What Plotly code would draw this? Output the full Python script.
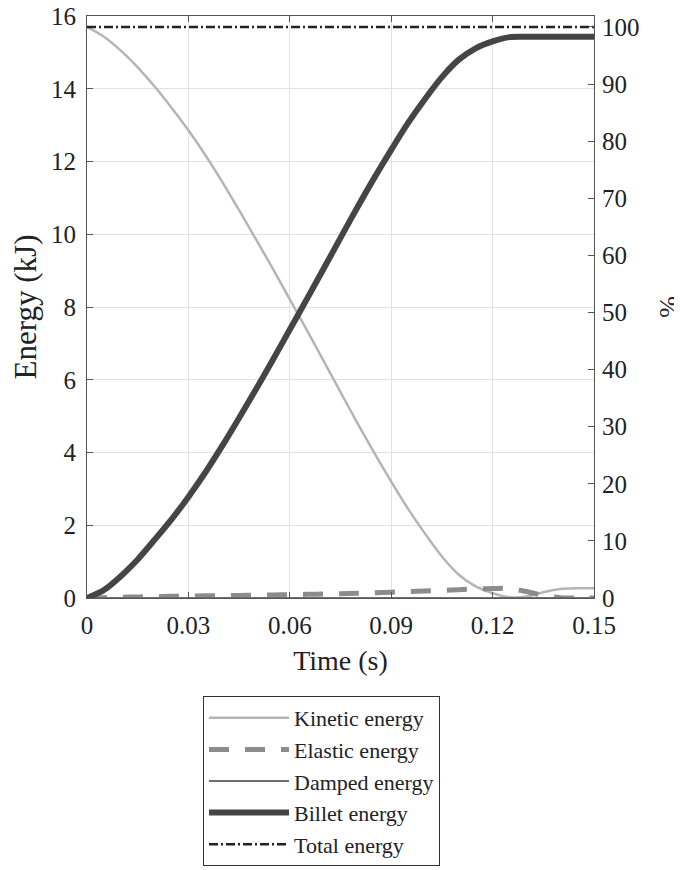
import plotly.graph_objects as go

time_s = [0.000, 0.005, 0.010, 0.015, 0.020, 0.025, 0.030, 0.035, 0.040, 0.045,
          0.050, 0.055, 0.060, 0.065, 0.070, 0.075, 0.080, 0.085, 0.090, 0.095,
          0.100, 0.105, 0.110, 0.115, 0.120, 0.125, 0.130, 0.135, 0.140, 0.145, 0.150]

kinetic = [15.70, 15.43, 15.05, 14.59, 14.06, 13.48, 12.86, 12.18, 11.44, 10.66,
           9.86, 9.05, 8.21, 7.37, 6.52, 5.66, 4.81, 3.99, 3.20, 2.45,
           1.77, 1.14, 0.64, 0.32, 0.13, 0.02, 0.04, 0.16, 0.25, 0.27, 0.27]

elastic = [0.00, 0.01, 0.02, 0.03, 0.035, 0.045, 0.05, 0.06, 0.065, 0.07,
           0.08, 0.085, 0.09, 0.10, 0.11, 0.12, 0.13, 0.145, 0.16, 0.175,
           0.19, 0.21, 0.23, 0.25, 0.26, 0.26, 0.18, 0.07, 0.01, 0.00, 0.00]

damped = [0.00, 0.00, 0.00, 0.00, 0.00, 0.00, 0.00, 0.00, 0.00, 0.00,
          0.00, 0.00, 0.00, 0.00, 0.00, 0.00, 0.00, 0.00, 0.00, 0.00,
          0.00, 0.00, 0.00, 0.00, 0.00, 0.00, 0.00, 0.00, 0.00, 0.00, 0.00]

billet = [0.00, 0.22, 0.60, 1.06, 1.60, 2.16, 2.78, 3.45, 4.18, 4.95,
          5.74, 6.55, 7.38, 8.21, 9.05, 9.90, 10.74, 11.55, 12.32, 13.06,
          13.72, 14.32, 14.80, 15.11, 15.30, 15.42, 15.43, 15.43, 15.43, 15.43, 15.43]

total = [15.70] * len(time_s)

TOTAL_REF = 15.70
percent = [v / TOTAL_REF * 100 for v in total]

x_ticks = [0, 0.03, 0.06, 0.09, 0.12, 0.15]
x_tick_labels = ["0", "0.03", "0.06", "0.09", "0.12", "0.15"]

FONT = "Liberation Serif, Times New Roman, serif"
AXIS_COLOR = "#555555"
GRID_COLOR = "#e2e2e2"

fig = go.Figure()

fig.add_trace(go.Scatter(x=time_s, y=kinetic, name="Kinetic energy", mode="lines",
                         line=dict(color="#b5b5b5", width=2.5, shape="spline", smoothing=0.8)))
fig.add_trace(go.Scatter(x=time_s, y=elastic, name="Elastic energy", mode="lines",
                         line=dict(color="#8c8c8c", width=5, dash="20px,16px", shape="spline", smoothing=0.8)))
fig.add_trace(go.Scatter(x=time_s, y=damped, name="Damped energy", mode="lines",
                         line=dict(color="#6f6f6f", width=2)))
fig.add_trace(go.Scatter(x=time_s, y=billet, name="Billet energy", mode="lines",
                         line=dict(color="#454545", width=6, shape="spline", smoothing=0.8)))
fig.add_trace(go.Scatter(x=time_s, y=total, name="Total energy", mode="lines",
                         line=dict(color="#222222", width=2.5, dash="9px,3px,2px,3px")))
fig.add_trace(go.Scatter(x=time_s, y=percent, yaxis="y2", mode="lines", showlegend=False,
                         hoverinfo="skip", line=dict(color="rgba(0,0,0,0)", width=0)))

fig.update_layout(
    width=682, height=870,
    margin=dict(l=79, r=96, t=8, b=280, autoexpand=False),
    paper_bgcolor="white", plot_bgcolor="white",
    font=dict(family=FONT, color="#222222", size=25),
    showlegend=True,
    legend=dict(
        x=(203 - 87) / 507, y=(598 - 696) / 582, xanchor="left", yanchor="top",
        bordercolor="#333333", borderwidth=1, bgcolor="white",
        font=dict(family=FONT, size=22, color="#222222"),
        itemwidth=80, tracegroupgap=0,
    ),
    xaxis=dict(
        range=[0, 0.15], tickvals=x_ticks, ticktext=x_tick_labels,
        ticks="inside", ticklen=6, tickcolor=AXIS_COLOR,
        showline=True, linecolor=AXIS_COLOR, linewidth=1.2, mirror="ticks",
        showgrid=True, gridcolor=GRID_COLOR, zeroline=False,
        tickfont=dict(size=25), ticklabelstandoff=5, ticklabeloverflow="allow",
        title=dict(text="Time (s)", font=dict(size=28), standoff=12),
    ),
    yaxis=dict(
        range=[0, 16], dtick=2, tick0=0,
        ticks="inside", ticklen=6, tickcolor=AXIS_COLOR,
        showline=True, linecolor=AXIS_COLOR, linewidth=1.2,
        showgrid=True, gridcolor=GRID_COLOR, zeroline=False,
        tickfont=dict(size=25), ticklabelstandoff=5, ticklabeloverflow="allow",
        title=dict(text="Energy (kJ)", font=dict(size=31), standoff=6),
    ),
    yaxis2=dict(
        overlaying="y", side="right",
        range=[0, 1600 / TOTAL_REF], dtick=10, tick0=0,
        ticks="inside", ticklen=6, tickcolor=AXIS_COLOR,
        showline=True, linecolor=AXIS_COLOR, linewidth=1.2,
        showgrid=False, zeroline=False,
        tickfont=dict(size=25), ticklabelstandoff=2, ticklabeloverflow="allow",
        title=dict(text="%", font=dict(size=26), standoff=20),
    ),
)

fig.write_html("out.html")
